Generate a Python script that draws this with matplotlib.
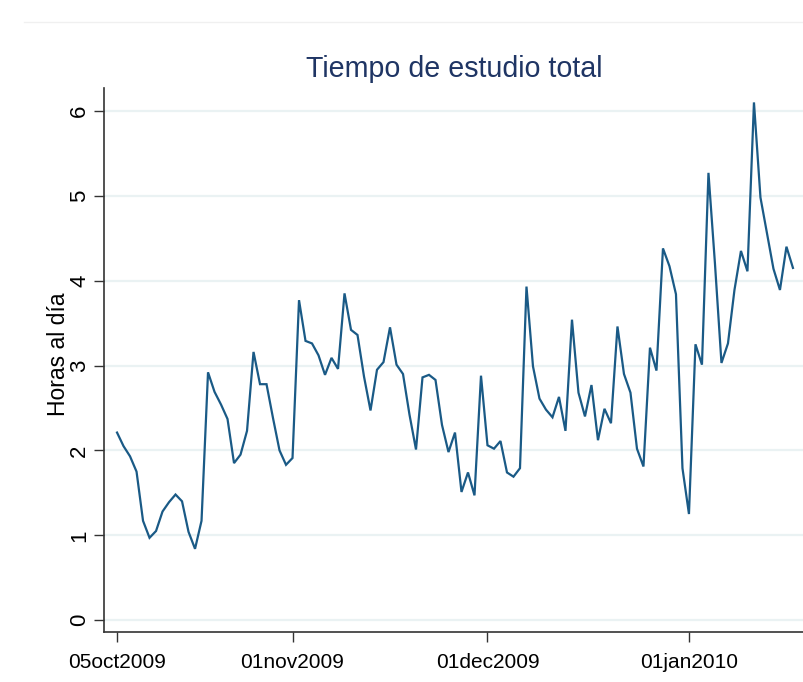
"""Tiempo de estudio total: daily study hours, Oct 2009 - Jan 2010."""
import matplotlib
matplotlib.use("Agg")
import matplotlib.pyplot as plt
import matplotlib.dates as mdates
from matplotlib.lines import Line2D
import pandas as pd

# ── Data ──────────────────────────────────────────────────────────────────
start_date = "2009-10-05"
horas = [
    2.21, 2.05, 1.93, 1.75, 1.17, 0.97, 1.05, 1.28, 1.39, 1.48,
    1.40, 1.04, 0.84, 1.17, 2.92, 2.69, 2.54, 2.37, 1.85, 1.95,
    2.23, 3.16, 2.78, 2.78, 2.38, 2.00, 1.83, 1.91, 3.77, 3.29,
    3.26, 3.12, 2.89, 3.09, 2.96, 3.85, 3.42, 3.36, 2.87, 2.47,
    2.95, 3.04, 3.45, 3.01, 2.90, 2.42, 2.01, 2.86, 2.89, 2.83,
    2.30, 1.98, 2.21, 1.51, 1.74, 1.47, 2.88, 2.06, 2.02, 2.11,
    1.74, 1.69, 1.79, 3.93, 2.99, 2.61, 2.48, 2.39, 2.63, 2.23,
    3.54, 2.68, 2.40, 2.77, 2.12, 2.49, 2.32, 3.46, 2.90, 2.68,
    2.02, 1.81, 3.21, 2.94, 4.38, 4.17, 3.84, 1.79, 1.25, 3.25,
    3.01, 5.27, 4.20, 3.03, 3.26, 3.89, 4.35, 4.11, 6.10, 4.98,
    4.56, 4.14, 3.89, 4.40, 4.15,
]
fechas = pd.date_range(start_date, periods=len(horas), freq="D")

tick_dates = pd.to_datetime(["2009-10-05", "2009-11-01", "2009-12-01", "2010-01-01"])
tick_labels = ["05oct2009", "01nov2009", "01dec2009", "01jan2010"]
y_ticks = [0, 1, 2, 3, 4, 5, 6]

# ── Figure ────────────────────────────────────────────────────────────────
plt.rcParams["font.family"] = ["Liberation Sans", "DejaVu Sans"]

fig = plt.figure(figsize=(8.04, 6.82), dpi=100)
ax = fig.add_axes([0.1294, 0.0733, 0.8706, 0.7977])

ax.plot(fechas, horas, color="#1a5a86", lw=1.6, solid_joinstyle="miter")

ax.set_xlim(fechas[0] - pd.Timedelta(days=2), fechas[0] + pd.Timedelta(days=105.7))
ax.set_ylim(-0.14, 6.27)

ax.set_xticks(mdates.date2num(tick_dates))
ax.set_xticklabels(tick_labels, fontsize=15)
ax.set_yticks(y_ticks)
ax.set_yticklabels([str(v) for v in y_ticks], fontsize=16, rotation=90, va="center")

ax.grid(axis="y", color="#eaf2f3", lw=1.6)
ax.set_axisbelow(True)
for side in ("top", "right"):
    ax.spines[side].set_visible(False)
for side in ("left", "bottom"):
    ax.spines[side].set_color("#333333")
    ax.spines[side].set_linewidth(1.2)
ax.tick_params(axis="both", direction="out", length=7, width=1, color="#333333")
ax.tick_params(axis="x", pad=8)
ax.tick_params(axis="y", pad=3)

ax.set_ylabel("Horas al día", fontsize=16.5)
ax.yaxis.set_label_coords(-0.048, 0.51)
ax.set_title("Tiempo de estudio total", fontsize=20.6, color="#1f3564", pad=8)

# faint outer border line of the graph region
fig.add_artist(Line2D([0.03, 1.0], [0.968, 0.968], color="#f0f0f0", lw=1))

fig.savefig("out.png", dpi=100)
